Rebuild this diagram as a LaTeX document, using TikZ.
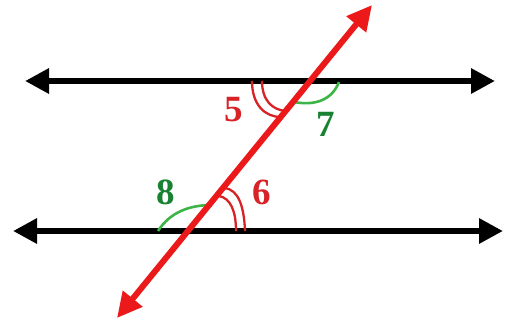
\documentclass[tikz,border=0pt]{standalone}
\usepackage{fontspec}
\setmainfont{Liberation Serif}
\usetikzlibrary{arrows.meta}
\definecolor{tred}{RGB}{235,25,25}
\definecolor{lred}{RGB}{215,35,40}
\definecolor{agreen}{RGB}{60,180,70}
\definecolor{lgreen}{RGB}{25,130,50}
\tikzset{
  parline/.style={line width=6pt, black, {Triangle[length=24pt,width=24pt]}-{Triangle[length=24pt,width=24pt]}},
  transline/.style={line width=6pt, tred, {Triangle[length=25pt,width=24pt]}-{Triangle[length=25pt,width=24pt]}},
  redarc/.style={line width=2.3pt, lred},
  greenarc/.style={line width=2.6pt, agreen},
  lab/.style={font=\fontsize{37}{37}\selectfont\bfseries, inner sep=0pt},
}
\begin{document}
\begin{tikzpicture}[x={(1pt,0)}, y={(0,-1pt)}]
\useasboundingbox (0,0) rectangle (508,325);
\coordinate (L1a) at (25,81);
\coordinate (L1b) at (495,81);
\coordinate (L2a) at (13,231);
\coordinate (L2b) at (503,231);
\coordinate (Ta) at (117,318);
\coordinate (Tb) at (372,5);
\draw[parline] (L1a) -- (L1b);
\draw[parline] (L2a) -- (L2b);
% angle 5
\coordinate (a5o1) at (252,81); \coordinate (a5o2) at (281,117);
\coordinate (a5i1) at (262,81); \coordinate (a5i2) at (286,111);
\draw[redarc] (a5o1) .. controls (252,105) and (265,117) .. (a5o2);
\draw[redarc] (a5i1) .. controls (262,100) and (272,110) .. (a5i2);
% angle 6
\coordinate (a6o1) at (225,188); \coordinate (a6o2) at (245,231);
\coordinate (a6i1) at (219,196); \coordinate (a6i2) at (236,231);
\draw[redarc] (a6o1) .. controls (238,190) and (244,205) .. (a6o2);
\draw[redarc] (a6i1) .. controls (230,198) and (236,210) .. (a6i2);
% angle 7
\coordinate (a71) at (294,102); \coordinate (a72) at (339,82);
\draw[greenarc] (a71) .. controls (315,106) and (332,100) .. (a72);
% angle 8
\coordinate (a81) at (158,231); \coordinate (a82) at (212,205);
\draw[greenarc] (a81) .. controls (170,212) and (190,205) .. (a82);
\draw[transline] (Ta) -- (Tb);
\node[lab, text=lred] (n5) at (234,110) {5};
\node[lab, text=lred] (n6) at (262,192) {6};
\node[lab, text=lgreen] (n7) at (326,124) {7};
\node[lab, text=lgreen] (n8) at (166,192) {8};
\end{tikzpicture}
\end{document}
